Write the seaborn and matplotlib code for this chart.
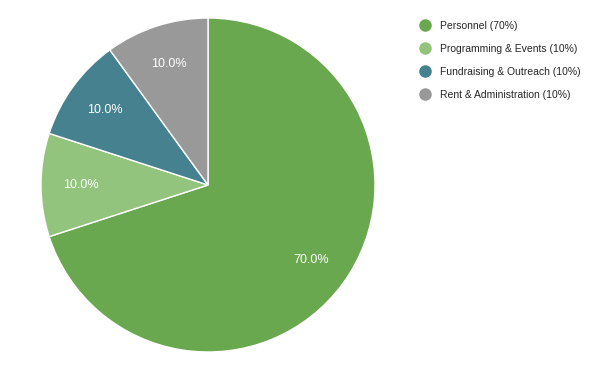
import matplotlib
matplotlib.use("Agg")
import matplotlib.pyplot as plt
from matplotlib.lines import Line2D
import seaborn as sns

categories = ["Personnel", "Programming & Events", "Fundraising & Outreach", "Rent & Administration"]
values = [70, 10, 10, 10]
colors = ["#6aa84f", "#93c47d", "#45818e", "#999999"]

sns.set_style("white")
plt.rcParams["font.family"] = ["Liberation Sans", "DejaVu Sans"]

W, H = 600, 371
fig = plt.figure(figsize=(6, 3.71), dpi=100)
cx, cy, r = 208, 185, 167
ax = fig.add_axes([(cx - r) / W, (H - cy - r) / H, 2 * r / W, 2 * r / H])
wedges, texts, autotexts = ax.pie(
    values, colors=colors, startangle=90, counterclock=False,
    autopct="%1.1f%%", pctdistance=0.76, radius=1,
    wedgeprops=dict(edgecolor="white", linewidth=1),
    textprops=dict(color="white", fontsize=9),
)
ax.set_xlim(-1, 1)
ax.set_ylim(-1, 1)
ax.set_aspect("equal")

handles = [Line2D([0], [0], marker="o", linestyle="", markersize=8,
                  markerfacecolor=c, markeredgecolor=c) for c in colors]
labels = [f"{c} ({v}%)" for c, v in zip(categories, values)]
fig.legend(handles, labels, loc="upper left", bbox_to_anchor=(418 / W, 1 - 21 / H),
           frameon=False, fontsize=7.5, handletextpad=0.85, labelspacing=1.25,
           handlelength=1.3, borderaxespad=0, borderpad=0)

fig.savefig("out.png", dpi=100)
